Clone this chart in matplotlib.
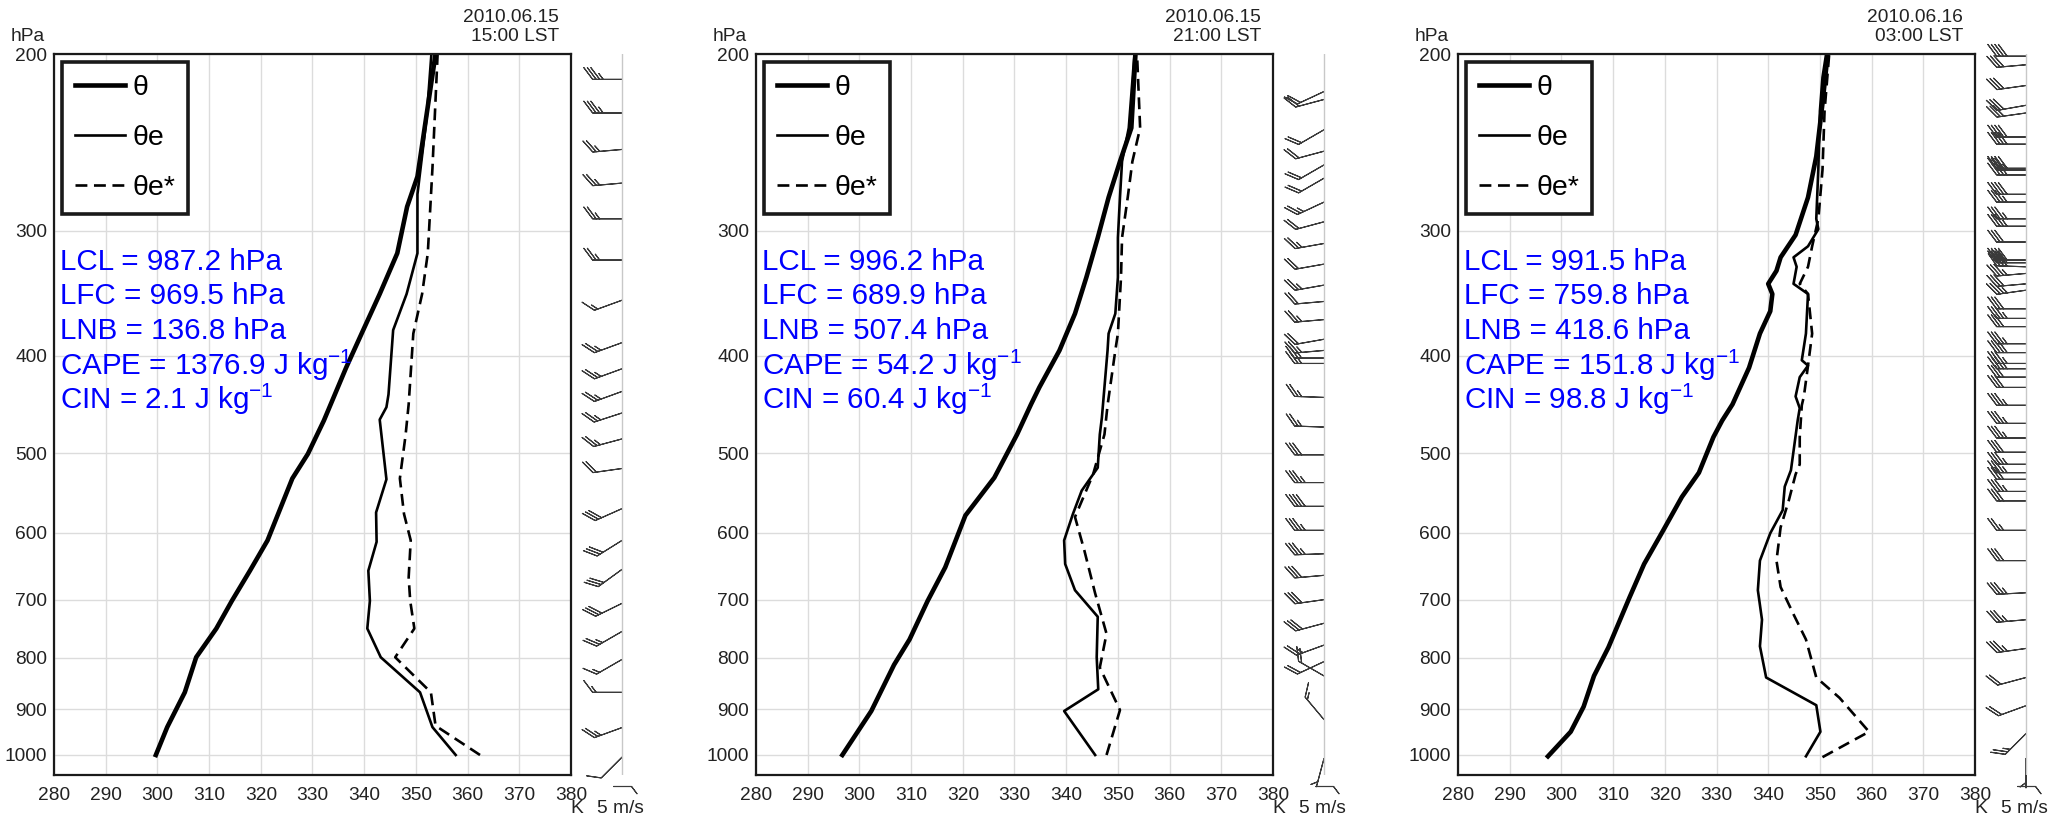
import numpy as np
import matplotlib
matplotlib.use("Agg")
import matplotlib.pyplot as plt
from matplotlib.ticker import NullLocator

plt.rcParams['font.family'] = ['Liberation Sans', 'DejaVu Sans']
plt.rcParams['mathtext.fontset'] = 'custom'
plt.rcParams['mathtext.rm'] = 'Liberation Sans'
plt.rcParams['mathtext.it'] = 'Liberation Sans:italic'

dates = ["2010.06.15", "2010.06.15", "2010.06.16"]
times = ["15:00 LST", "21:00 LST", "03:00 LST"]

lcl = [987.2, 996.2, 991.5]
lfc = [969.5, 689.9, 759.8]
lnb = [136.8, 507.4, 418.6]
cape = [1376.9, 54.2, 151.8]
cin = [2.1, 60.4, 98.8]

# panel 1 (15:00)
p1_theta_p = [1000, 938, 866, 799, 748, 702, 655, 611, 530, 501, 464, 411, 380, 347, 316, 284, 265, 200]
p1_theta = [299.7, 301.9, 305.3, 307.5, 311.4, 314.4, 317.9, 321.3, 326.1, 329.1, 332.2, 336.5, 339.5,
            343.0, 346.4, 348.3, 350.3, 353.8]
p1_thetae_p = [1000, 938, 866, 799, 748, 702, 655, 613, 573, 531, 463, 450, 437, 377, 347, 316, 276, 231, 200]
p1_thetae = [357.7, 353.2, 350.8, 343.2, 340.6, 341.1, 340.8, 342.4, 342.3, 344.3, 343.0, 344.3, 344.7,
             345.6, 348.2, 350.3, 350.3, 352.1, 353.0]
p1_thetaes_p = [1000, 935, 866, 799, 748, 702, 665, 611, 575, 530, 480, 447, 380, 347, 316, 260, 200]
p1_thetaes = [362.4, 353.8, 352.9, 346.0, 349.7, 348.9, 348.6, 349.0, 347.7, 346.9, 348.0, 348.6, 349.5,
              351.2, 352.3, 353.2, 354.2]

# panel 2 (21:00)
p2_theta_p = [1000, 904, 813, 767, 702, 650, 577, 529, 479, 447, 430, 395, 363, 334, 305, 278, 256, 237, 200]
p2_theta = [296.7, 302.3, 306.7, 309.7, 313.2, 316.6, 320.5, 326.1, 330.5, 333.2, 334.8, 338.7, 341.7,
            343.9, 346.1, 348.2, 350.4, 352.6, 353.4]
p2_thetae_p = [1000, 904, 860, 799, 728, 685, 645, 611, 575, 545, 517, 479, 461, 395, 380, 363, 334, 305,
               278, 256, 237, 200]
p2_thetae = [345.6, 339.6, 346.2, 345.9, 346.1, 341.7, 339.8, 339.6, 341.3, 343.0, 346.1, 346.5, 346.9,
             348.0, 348.2, 349.5, 350.0, 350.0, 350.4, 350.8, 352.1, 353.2]
p2_thetaes_p = [1000, 902, 818, 757, 690, 625, 579, 525, 479, 448, 395, 380, 334, 305, 278, 256, 237, 200]
p2_thetaes = [347.8, 350.4, 346.5, 347.8, 345.6, 343.5, 341.7, 345.2, 347.4, 348.0, 349.5, 350.0, 350.6,
              350.8, 351.9, 352.8, 354.3, 353.7]

# panel 3 (03:00)
p3_theta_p = [1003, 948, 895, 834, 781, 696, 645, 597, 553, 523, 482, 464, 447, 411, 380, 361, 347, 339,
              329, 319, 303, 278, 253, 224, 200]
p3_theta = [297.4, 301.8, 304.3, 306.3, 309.1, 313.2, 316.0, 319.7, 323.3, 326.6, 329.4, 331.1, 333.1,
            336.3, 338.4, 340.4, 340.8, 340.0, 341.6, 342.4, 345.3, 347.7, 349.3, 350.5, 351.5]
p3_thetae_p = [1003, 948, 892, 837, 779, 733, 685, 640, 601, 570, 540, 520, 464, 451, 439, 420, 409, 404,
               380, 347, 339, 326, 319, 311, 299, 292, 260, 228, 211, 200]
p3_thetae = [347.3, 350.1, 349.3, 339.6, 338.4, 338.8, 338.0, 338.4, 340.4, 342.8, 343.2, 344.4, 345.7,
             346.1, 345.3, 346.1, 347.7, 346.5, 347.3, 347.7, 344.9, 345.5, 344.9, 347.7, 349.7, 349.3,
             349.7, 350.0, 350.5, 351.2]
p3_thetaes_p = [1005, 948, 877, 837, 767, 724, 680, 640, 593, 557, 525, 513, 482, 448, 439, 409, 380, 347,
                339, 326, 311, 292, 261, 228, 200]
p3_thetaes = [350.5, 359.5, 353.8, 349.3, 347.3, 344.9, 342.4, 341.6, 342.4, 344.0, 345.3, 346.1, 346.1,
              346.5, 346.9, 347.7, 348.5, 347.7, 346.1, 347.7, 348.5, 349.7, 350.5, 350.9, 351.8]

# wind barbs: pressure (hPa), direction (deg, from), speed (m/s)
b1_p = [212, 229, 249, 269, 292, 321, 352, 388, 412, 434, 456, 484, 518, 568, 611, 653, 706, 753, 803,
        866, 939, 1005]
b1_dir = [270, 270, 265, 265, 270, 270, 250, 250, 250, 250, 252, 255, 262, 246, 238, 234, 244, 240, 240,
          270, 250, 225]
b1_spd = [17.5, 17.5, 12.5, 12.5, 12.5, 12.5, 7.5, 12.5, 12.5, 12.5, 12.5, 12.5, 10, 15, 15, 15, 15, 12.5,
          7.5, 7.5, 12.5, 5]

b2_p = [218, 222, 238, 250, 258, 266, 281, 294, 309, 324, 340, 353, 368, 385, 395, 402, 407, 440, 471,
        502, 535, 565, 597, 630, 662, 700, 739, 777, 807, 834, 922, 1008]
b2_dir = [245, 255, 240, 255, 240, 240, 245, 255, 260, 260, 260, 265, 265, 260, 265, 270, 270, 272, 272,
          270, 270, 270, 270, 268, 265, 262, 255, 250, 245, 300, 320, 195]
b2_spd = [10, 10, 10, 10, 10, 10, 12.5, 10, 12.5, 10, 12.5, 10, 12.5, 10, 12.5, 12.5, 12.5, 12.5, 12.5,
          15, 17.5, 20, 17.5, 17.5, 15, 15, 15, 12.5, 10, 10, 7.5, 2.5]

b3_p = [201, 205, 215, 225, 229, 242, 246, 260, 261, 264, 276, 281, 292, 297, 308, 321, 323, 326, 331,
        339, 344, 359, 367, 374, 389, 397, 407, 412, 420, 430, 448, 467, 483, 499, 513, 523, 531, 546,
        558, 597, 640, 689, 733, 783, 837, 893, 952, 1008]
b3_dir = [270, 265, 262, 260, 262, 270, 270, 270, 270, 270, 270, 270, 270, 270, 270, 270, 270, 272, 265,
          265, 262, 270, 270, 270, 270, 270, 270, 270, 270, 270, 270, 270, 270, 270, 270, 270, 270, 270,
          270, 270, 270, 267, 265, 262, 255, 250, 225, 180]
b3_spd = [20, 15, 15, 15, 15, 20, 20, 20, 17.5, 20, 20, 17.5, 17.5, 17.5, 15, 20, 20, 20, 17.5, 15, 17.5,
          15, 17.5, 15, 17.5, 20, 17.5, 17.5, 15, 15, 17.5, 17.5, 17.5, 15, 17.5, 17.5, 15, 17.5, 15,
          12.5, 15, 17.5, 17.5, 17.5, 10, 10, 12.5, 2.5]

p_levels = [200, 300, 400, 500, 600, 700, 800, 900, 1000]
k_levels = list(range(280, 381, 10))

FIG_W, FIG_H = 2055, 819
PANEL_LEFT = [54, 756, 1458]
INC = dict(half=2.5, full=5, flag=25)
BARB_SIZES = dict(spacing=0.12, height=0.4, width=0.6)


def draw_panel(fig, left, date, time, theta, thetae, thetaes, barb, stats):
    # main sounding axes
    ax = fig.add_axes([left / FIG_W, 44 / FIG_H, 517 / FIG_W, 721 / FIG_H])
    ax.set_yscale('log')
    ax.set_ylim(1047, 200)
    ax.set_xlim(280, 380)
    ax.set_yticks(p_levels)
    ax.set_yticklabels([str(p) for p in p_levels])
    ax.yaxis.set_minor_locator(NullLocator())
    ax.set_xticks(k_levels)
    ax.tick_params(length=0, labelsize=13.8, colors='#222222')
    ax.tick_params(axis='x', pad=9)
    ax.tick_params(axis='y', pad=5)
    ax.grid(True, color='#dcdcdc', lw=1)
    ax.set_axisbelow(True)
    for s in ax.spines.values():
        s.set_linewidth(1.6)
        s.set_color('#1a1a1a')

    l1, = ax.plot(theta[1], theta[0], color='black', lw=3.3)
    l2, = ax.plot(thetae[1], thetae[0], color='black', lw=1.9)
    l3, = ax.plot(thetaes[1], thetaes[0], color='black', lw=1.9, ls=(0, (4.5, 2.5)))

    leg = ax.legend([l1, l2, l3], ['θ', 'θe', 'θe*'], loc='upper left', bbox_to_anchor=(0.016, 0.989),
                    borderaxespad=0, fontsize=20.5, handlelength=1.75, handletextpad=0.25,
                    labelspacing=0.85, borderpad=0.45, fancybox=False, framealpha=1, edgecolor='#1a1a1a')
    leg.get_frame().set_linewidth(2.6)

    for i, s in enumerate(stats):
        ax.text(0.011, 0.7115 - i * 0.0478, s, color='#0000ff', fontsize=21.3, ha='left', va='center',
                transform=ax.transAxes)

    ax.text(0.977, 1.051, date, ha='right', va='center', fontsize=13.8, color='#222222', transform=ax.transAxes)
    ax.text(0.977, 1.024, time, ha='right', va='center', fontsize=13.8, color='#222222', transform=ax.transAxes)
    ax.text(-0.018, 1.024, 'hPa', ha='right', va='center', fontsize=13.8, color='#222222', transform=ax.transAxes)
    ax.text(1.012, -0.047, 'K', ha='center', va='center', fontsize=13.8, color='#222222', transform=ax.transAxes)

    # wind barb strip
    bx = fig.add_axes([(left + 526) / FIG_W, 44 / FIG_H, 60 / FIG_W, 721 / FIG_H])
    bx.set_yscale('log')
    bx.set_ylim(1047, 200)
    bx.set_xlim(0, 1)
    bx.axis('off')
    bx.axvline(0.7, color='#c8c8c8', lw=1)
    bp, bd, bs = barb
    rad = np.deg2rad(bd)
    u = -np.array(bs) * np.sin(rad)
    v = -np.array(bs) * np.cos(rad)
    bx.barbs(np.full(len(bp), 0.7), bp, u, v, length=6.5, barb_increments=INC, sizes=BARB_SIZES,
             color='#3a3a3a', linewidth=0.8, clip_on=False)
    # key
    bx.barbs([0.55], [-0.015], [-5], [0], length=5.1, barb_increments=INC, sizes=BARB_SIZES,
             color='#3a3a3a', linewidth=0.8, transform=bx.transAxes, clip_on=False)
    bx.text(0.68, -0.047, '5 m/s', ha='center', va='center', fontsize=13.8, color='#222222',
            transform=bx.transAxes)


fig = plt.figure(figsize=(FIG_W / 100, FIG_H / 100), dpi=100)

panels = [
    ((p1_theta_p, p1_theta), (p1_thetae_p, p1_thetae), (p1_thetaes_p, p1_thetaes), (b1_p, b1_dir, b1_spd)),
    ((p2_theta_p, p2_theta), (p2_thetae_p, p2_thetae), (p2_thetaes_p, p2_thetaes), (b2_p, b2_dir, b2_spd)),
    ((p3_theta_p, p3_theta), (p3_thetae_p, p3_thetae), (p3_thetaes_p, p3_thetaes), (b3_p, b3_dir, b3_spd)),
]

for i, (th, the, thes, barb) in enumerate(panels):
    stats = [
        f"LCL = {lcl[i]} hPa",
        f"LFC = {lfc[i]} hPa",
        f"LNB = {lnb[i]} hPa",
        f"CAPE = {cape[i]} J kg$^{{-1}}$",
        f"CIN = {cin[i]} J kg$^{{-1}}$",
    ]
    draw_panel(fig, PANEL_LEFT[i], dates[i], times[i], th, the, thes, barb, stats)

fig.savefig("out.png", dpi=100, facecolor='white')
plt.close(fig)
